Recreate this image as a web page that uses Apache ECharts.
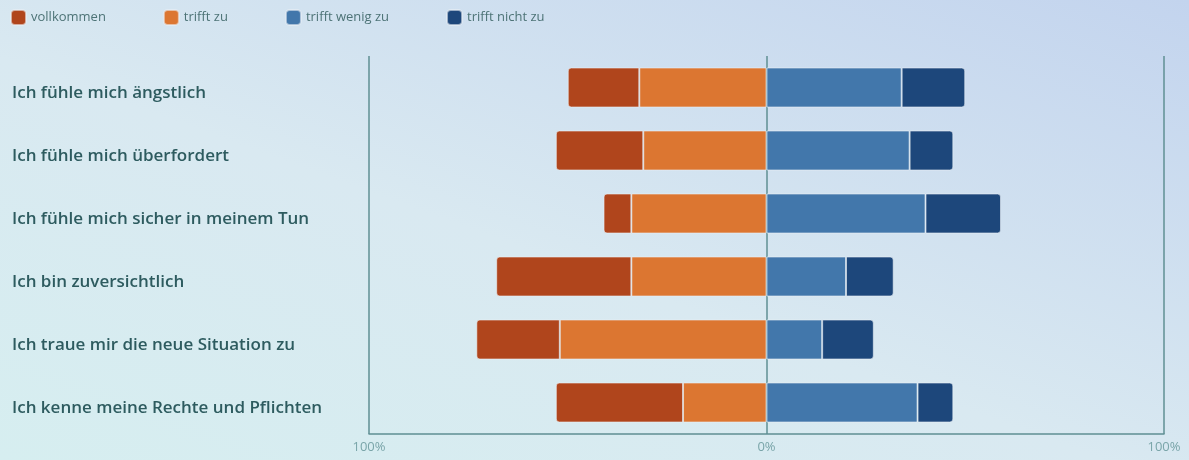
<!DOCTYPE html>
<html><head><meta charset="utf-8">
<script src="https://cdn.jsdelivr.net/npm/echarts@6/dist/echarts.min.js"></script>
<style>
html,body{margin:0;padding:0;}
body{width:1189px;height:460px;background:linear-gradient(20deg,#d6eef0 0%,#d9e9f1 45%,#c3d4ee 100%);}
#c{width:1189px;height:460px;}
</style></head><body><div id="c"></div>
<script>
const categories = ["Ich fühle mich ängstlich","Ich fühle mich überfordert","Ich fühle mich sicher in meinem Tun","Ich bin zuversichtlich","Ich traue mir die neue Situation zu","Ich kenne meine Rechte und Pflichten"];
const vollkommen = [18,22,7,34,21,32];
const trifftZu = [32,31,34,34,52,21];
const trifftWenigZu = [34,36,40,20,14,38];
const trifftNichtZu = [16,11,19,12,13,9];
const tickLabels = {"-100":"100%","0":"0%","100":"100%"};

const chart = echarts.init(document.getElementById('c'));
const border = {borderColor:'rgba(235,240,245,0.6)',borderWidth:1};
chart.setOption({
  backgroundColor:'transparent',
  animation:false,
  textStyle:{fontFamily:'Open Sans'},
  legend:{
    left:5, top:4, itemWidth:15, itemHeight:15, itemGap:57,
    icon:'roundRect',
    textStyle:{color:'#4d7376',fontSize:13,fontFamily:'Open Sans'},
    data:['vollkommen','trifft zu','trifft wenig zu','trifft nicht zu']
  },
  grid:{left:369,right:25,top:56,bottom:26,containLabel:false},
  xAxis:{
    type:'value',min:-100,max:100,interval:100,
    axisLine:{show:true,lineStyle:{color:'#5f8f93',width:1.5}},
    axisTick:{show:false},
    splitLine:{show:true,lineStyle:{color:'#5f8f93',width:1.5}},
    axisLabel:{color:'#7aa5a9',fontSize:13,margin:7,formatter:v=>tickLabels[String(v)]}
  },
  yAxis:{
    type:'category',inverse:true,data:categories,
    axisLine:{show:false},axisTick:{show:false},
    axisLabel:{align:'left',verticalAlign:'top',lineHeight:12,margin:357,color:'#2d5b5f',fontSize:17,fontWeight:600,fontFamily:'Open Sans'}
  },
  series:[
    {name:'trifft zu',type:'bar',stack:'t',barWidth:40,itemStyle:Object.assign({color:'#dc7631'},border),data:trifftZu.map(v=>-v)},
    {name:'vollkommen',type:'bar',stack:'t',barWidth:40,itemStyle:Object.assign({color:'#b0451c',borderRadius:[3,0,0,3]},border),data:vollkommen.map(v=>-v)},
    {name:'trifft wenig zu',type:'bar',stack:'t',barWidth:40,itemStyle:Object.assign({color:'#4277ab'},border),data:trifftWenigZu},
    {name:'trifft nicht zu',type:'bar',stack:'t',barWidth:40,itemStyle:Object.assign({color:'#1d477b',borderRadius:[0,3,3,0]},border),data:trifftNichtZu}
  ]
});
</script></body></html>
